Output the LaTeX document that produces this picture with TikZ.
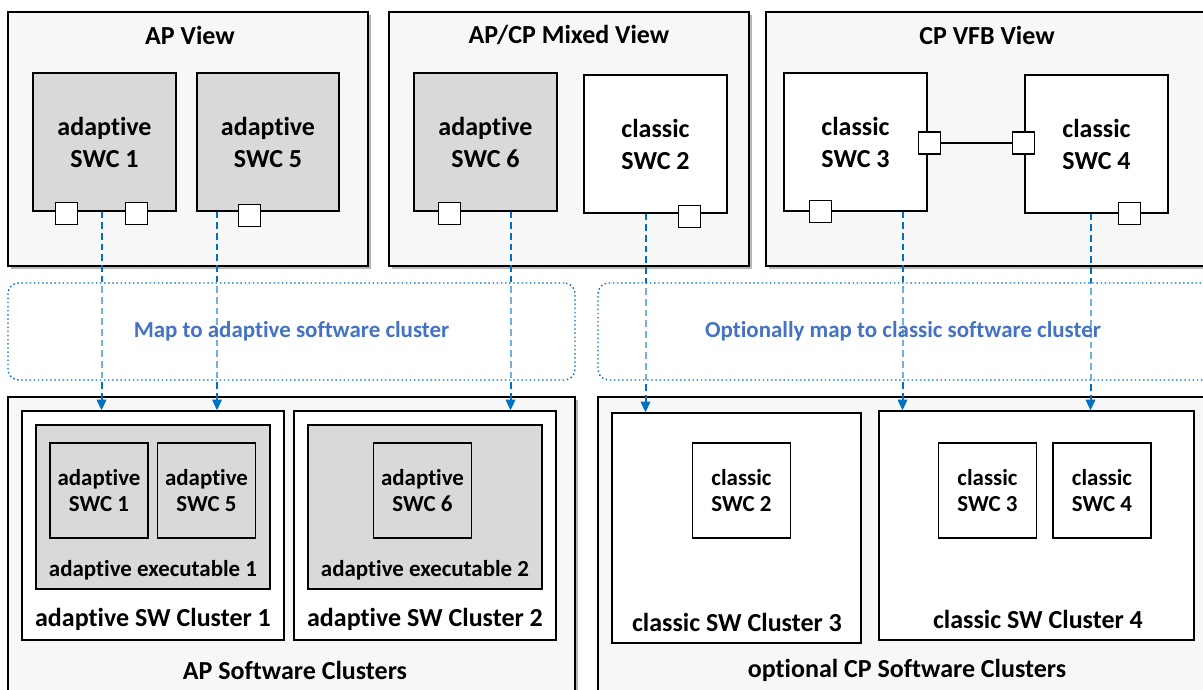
\documentclass[tikz,border=0pt]{standalone}
\usepackage{fontspec}
\setmainfont[Ligatures={NoCommon,NoContextual,NoRequired},Contextuals=NoAlternate]{Carlito}
\usepackage{tikz}
\usetikzlibrary{arrows.meta,calc,shadows}

\definecolor{mapblue}{HTML}{0070C0}
\definecolor{textblue}{HTML}{4472C4}
\definecolor{swcgrey}{HTML}{D9D9D9}

\begin{document}
\begin{tikzpicture}[x=0.75pt, y=-0.75pt]
\tikzset{sz/.style 2 args={minimum width={#1*0.75pt}, minimum height={#2*0.75pt}},
bigtext/.style={font=\bfseries\fontsize{19.5}{24}\selectfont, align=center},
smalltext/.style={font=\bfseries\fontsize{17.2}{20}\selectfont, align=center},
viewbox/.style={draw, line width=0.9pt, fill=black!3, inner sep=0,
  drop shadow={shadow xshift=2pt, shadow yshift=-2pt, opacity=0.4, fill=black!70}},
clusterbox/.style={draw, line width=0.9pt, fill=white, inner sep=0},
swcbox/.style={draw, line width=0.9pt, inner sep=0, bigtext},
smallswc/.style={draw, line width=0.9pt, inner sep=0, smalltext, sz={98}{95}},
port/.style={draw, line width=0.9pt, fill=white, inner sep=0, sz={22}{22}},
maparrow/.style={mapblue, line width=1.5pt, dash pattern=on 5pt off 3pt,
  -{Triangle[length=8pt,width=7pt]}},
mapzone/.style={draw=mapblue, line width=1.1pt, dotted, rounded corners=8pt,
  fill=white, fill opacity=0.45, text opacity=1, text=textblue, smalltext}}

\useasboundingbox (0,0) rectangle (1203,689);
\clip (0,0) rectangle (1203,689);

%% Views
\node (apview) [viewbox, sz={360}{254}] at (188,139) {};
\node (mixview) [viewbox, sz={360}{254}] at (569,139) {};
\node (cpview) [viewbox, sz={442}{254}] at (987,139) {};
\node [bigtext] at (190,35) {AP View};
\node [bigtext] at (569,35) {AP/CP Mixed View};
\node [bigtext] at (987,35) {CP VFB View};

\node (swcA1) [swcbox, fill=swcgrey, sz={143}{138}] at (104.5,142) {adaptive\\SWC 1};
\node (swcA5) [swcbox, fill=swcgrey, sz={142}{138}] at (268,142) {adaptive\\SWC 5};
\node (swcA6) [swcbox, fill=swcgrey, sz={143}{138}] at (485.5,142) {adaptive\\SWC 6};
\node (swcC2) [swcbox, fill=white, sz={143}{138}] at (655.5,144) {classic\\SWC 2};
\node (swcC3) [swcbox, fill=white, sz={143}{138}] at (855.5,142) {classic\\SWC 3};
\node (swcC4) [swcbox, fill=white, sz={143}{138}] at (1096.5,144) {classic\\SWC 4};

%% Ports
\node (pA1a) [port] at ($(swcA1.south west)+(34,2)$) {};
\node (pA1b) [port] at ($(swcA1.south west)+(104,2)$) {};
\node (pA5) [port] at ($(swcA5.south west)+(53,4)$) {};
\node (pA6) [port] at ($(swcA6.south west)+(36,2)$) {};
\node (pC2) [port] at ($(swcC2.south west)+(106,3)$) {};
\node (pC3b) [port] at ($(swcC3.south west)+(37,0)$) {};
\node (pC3r) [port] at ($(swcC3.east)+(2,1)$) {};
\node (pC4l) [port] at ($(swcC4.west)+(-1,-1)$) {};
\node (pC4b) [port] at ($(swcC4.south west)+(105,0)$) {};
\draw [line width=0.9pt] (pC3r) -- (pC4l);

%% Software clusters
\node (apclusters) [viewbox, sz={567}{308}] at (291.5,551) {};
\node (cpclusters) [viewbox, sz={618}{308}] at (907,551) {};

\node (clA1) [clusterbox, sz={262}{229}] at (153,525.5) {};
\node (clA2) [clusterbox, sz={262}{229}] at (425,525.5) {};
\node (clC3) [clusterbox, sz={249}{230}] at (736.5,528) {};
\node (clC4) [clusterbox, sz={315}{229}] at (1036.5,525.5) {};

\node (exeA1) [draw, line width=0.9pt, fill=swcgrey, sz={234}{164}] at (153,507) {};
\node (exeA2) [draw, line width=0.9pt, fill=swcgrey, sz={234}{164}] at (425,507) {};

\node (sA1) [smallswc, fill=swcgrey] at (99,490.5) {adaptive\\SWC 1};
\node (sA5) [smallswc, fill=swcgrey] at (206.5,490.5) {adaptive\\SWC 5};
\node (sA6) [smallswc, fill=swcgrey] at (422.5,490.5) {adaptive\\SWC 6};
\node (sC2) [smallswc, fill=white] at (741.5,490.5) {classic\\SWC 2};
\node (sC3) [smallswc, fill=white] at (987.5,490.5) {classic\\SWC 3};
\node (sC4) [smallswc, fill=white] at (1102,490.5) {classic\\SWC 4};

\node [smalltext] at (153,570) {adaptive executable 1};
\node [smalltext] at (425,570) {adaptive executable 2};
\node [bigtext] at (153,619) {adaptive SW Cluster 1};
\node [bigtext] at (425,619) {adaptive SW Cluster 2};
\node [bigtext] at (737,622) {classic SW Cluster 3};
\node [bigtext] at (1038,619) {classic SW Cluster 4};
\node [bigtext] at (295,670) {AP Software Clusters};
\node [bigtext] at (907,670) {optional CP Software Clusters};

%% Mapping arrows
\draw [maparrow] ($(swcA1.south)+(-3,0)$) coordinate (mA1) -- (mA1 |- clA1.north);
\draw [maparrow] ($(swcA5.south)+(-51,0)$) coordinate (mA5) -- (mA5 |- clA1.north);
\draw [maparrow] ($(swcA6.south)+(25,0)$) coordinate (mA6) -- (mA6 |- clA2.north);
\draw [maparrow] ($(swcC2.south)+(-10,0)$) coordinate (mC2) -- (mC2 |- clC3.north);
\draw [maparrow] ($(swcC3.south)+(47,0)$) coordinate (mC3) -- (mC3 |- clC4.north);
\draw [maparrow] ($(swcC4.south)+(-6,0)$) coordinate (mC4) -- (mC4 |- clC4.north);

\node (mapAP) [mapzone, sz={567}{97}] at (291.5,331.5) {Map to adaptive software cluster};
\node (mapCP) [mapzone, sz={618}{97}] at (907,331.5) {};
\node [smalltext, text=textblue] at (903,331.5) {Optionally map to classic software cluster};

\end{tikzpicture}
\end{document}
